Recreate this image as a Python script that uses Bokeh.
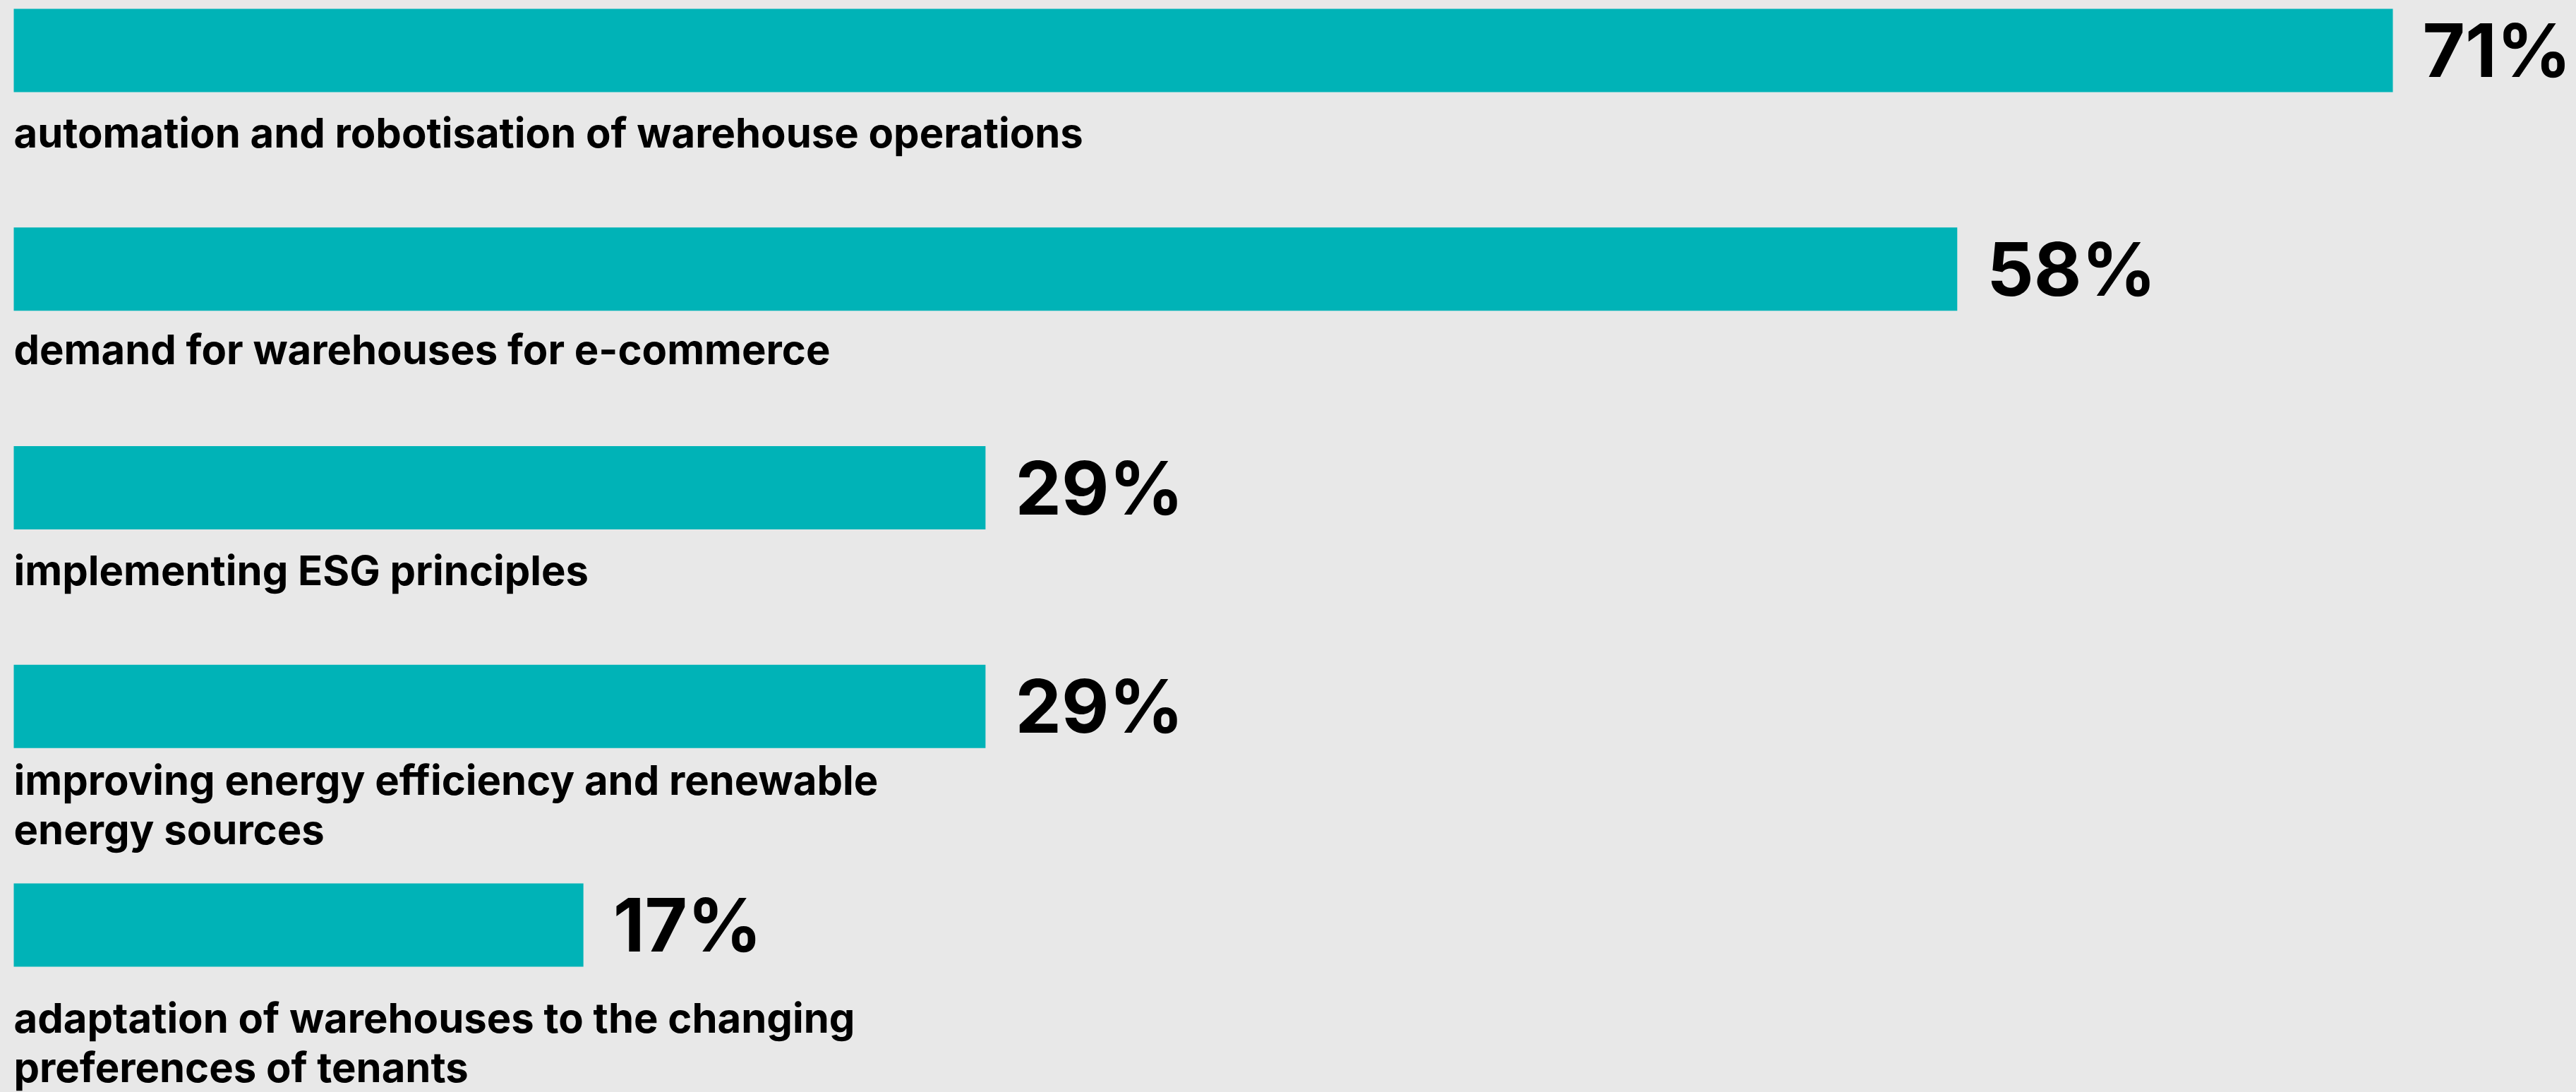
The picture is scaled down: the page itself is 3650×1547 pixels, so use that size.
from bokeh.plotting import figure
from bokeh.models import Range1d, ColumnDataSource, GlobalInlineStyleSheet
from bokeh.core.properties import value
from bokeh.embed import file_html
from bokeh.resources import INLINE

# ---- data ----
categories = [
    "automation and robotisation of warehouse operations",
    "demand for warehouses for e-commerce",
    "implementing ESG principles",
    "improving energy efficiency and renewable\nenergy sources",
    "adaptation of warehouses to the changing\npreferences of tenants",
]
values = [71, 58, 29, 29, 17]

# ---- layout / style ----
BG = "#e8e8e8"
BAR = "#00b3b7"
FONT = "Inter"
W, H = 3650, 1547
PX_PER_PCT = 3371 / 71.0        # pixels per percentage point
LEFT = 19                        # px from canvas left to bar start
ROW0 = 71                        # centre of first bar (page px)
PITCH = 309.75                   # row spacing (page px)
BAR_H = 118
label_gap = [78, 75, 78, 66, 93]  # bar bottom -> first label baseline
LINE_H = 70
LABEL_SIZE = 58
PCT_SIZE = 104
SHIFT = 0.35                     # renderer baseline correction (fraction of em)

p = figure(
    width=W, height=H,
    output_backend="svg", toolbar_location=None,
    x_range=Range1d(-LEFT / PX_PER_PCT, (W - LEFT) / PX_PER_PCT),
    y_range=Range1d(H, 0),
    min_border=0,
)
p.axis.visible = False
p.grid.visible = False
p.outline_line_color = None
p.background_fill_color = BG
p.border_fill_color = BG
p.stylesheets = [GlobalInlineStyleSheet(css=f"body {{ background-color: {BG}; }}")]

centers = [ROW0 + i * PITCH for i in range(len(values))]
src = ColumnDataSource(dict(y=centers, right=values,
                            pct=[f"{v}%" for v in values],
                            pct_y=[c + 36 - SHIFT * PCT_SIZE for c in centers]))
p.hbar(y="y", left=0, right="right", height=BAR_H, source=src,
       fill_color=BAR, line_color=None)

p.text(x="right", y="pct_y", text="pct", source=src,
       text_font=value(FONT), text_font_style="bold", text_font_size=f"{PCT_SIZE}px",
       text_color="black", text_baseline="alphabetic", text_align="left",
       x_offset=42)

lx, ly, lt = [], [], []
for i, cat in enumerate(categories):
    base = centers[i] + BAR_H / 2 + label_gap[i] - SHIFT * LABEL_SIZE
    for k, line in enumerate(cat.split("\n")):
        lx.append(0)
        ly.append(base + k * LINE_H)
        lt.append(line)
lsrc = ColumnDataSource(dict(x=lx, y=ly, t=lt))
p.text(x="x", y="y", text="t", source=lsrc,
       text_font=value(FONT), text_font_style="bold", text_font_size=f"{LABEL_SIZE}px",
       text_color="black", text_baseline="alphabetic", text_align="left")

open("out.html", "w").write(file_html(p, INLINE))
